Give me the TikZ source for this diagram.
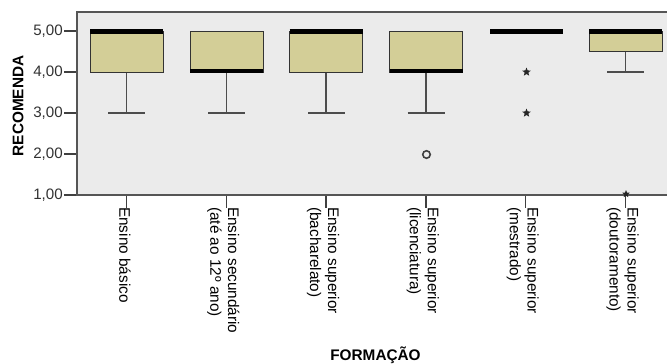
\documentclass[tikz,border=0pt]{standalone}
\usepackage{fontspec}
\setmainfont{Liberation Sans}
\usetikzlibrary{shapes.geometric}
\definecolor{panel}{RGB}{235,235,235}
\definecolor{boxfill}{RGB}{211,206,151}
\definecolor{framecol}{RGB}{85,85,85}
\definecolor{inkgray}{RGB}{50,50,50}
\begin{document}
\begin{tikzpicture}[x=1bp,y=-1bp,
  ticklab/.style={font=\fontsize{15.2}{18}\selectfont, text=inkgray, inner sep=0, anchor=east},
  catlab/.style={font=\fontsize{15.4}{18}\selectfont, inner sep=0, rotate=-90, anchor=west, align=left},
  axtitle/.style={font=\fontsize{15.4}{18}\selectfont\bfseries, inner sep=0},
  boxbody/.style={fill=boxfill, draw=black!80, line width=1pt},
  median/.style={line width=4.2pt, black},
  whisk/.style={draw=black!70, line width=1.3pt},
  frame/.style={draw=framecol, line width=2pt},
  tickline/.style={draw=black!75, line width=1.3pt},
  extreme/.style={shape=star, star points=5, star point ratio=2.3, fill=black!85, inner sep=0, minimum size=9bp},
  outl/.style={shape=circle, draw=black!75, line width=1.6pt, fill=panel, inner sep=0, minimum size=7.5bp}
]
\useasboundingbox (0,0) rectangle (667,363);
\clip (0,0) rectangle (667,363);

% plotting panel
\fill[panel] (77,12) rectangle (700,195);

% value axis ticks and labels
\foreach \v/\y in {5/31,4/72,3/113,2/154,1/195}{
  \draw[tickline] (64,\y) -- (77,\y);
  \node[ticklab] (yl\v) at (63,\y) {\v,00};
}

% category ticks
\foreach \c in {126.5,226.3,326.1,425.9,525.7,625.5}{
  \draw[tickline] (\c,195) -- (\c,208);
}

% Ensino basico
\draw[whisk] (126.5,72) -- (126.5,113);
\draw[whisk] (108,113) -- (145,113);
\draw[boxbody] (90,31) rectangle (163,72);
\draw[median] (90,31.5) -- (163,31.5);

% Ensino secundario
\draw[whisk] (226.3,72) -- (226.3,113);
\draw[whisk] (208,113) -- (245,113);
\draw[boxbody] (190,31) rectangle (263,72);
\draw[median] (190,71.3) -- (263,71.3);

% Ensino superior (bacharelato)
\draw[whisk] (326.1,72) -- (326.1,113);
\draw[whisk] (308,113) -- (345,113);
\draw[boxbody] (289.5,31) rectangle (362.5,72);
\draw[median] (289.5,31.5) -- (362.5,31.5);

% Ensino superior (licenciatura)
\draw[whisk] (425.9,72) -- (425.9,113);
\draw[whisk] (407.5,113) -- (444.5,113);
\draw[boxbody] (389.5,31) rectangle (462.5,72);
\draw[median] (389.5,71.3) -- (462.5,71.3);
\node[outl] (o4) at (426.5,154.5) {};

% Ensino superior (mestrado)
\draw[median] (490,31.5) -- (563,31.5);
\node[extreme] (s5a) at (526.5,72) {};
\node[extreme] (s5b) at (526.5,113) {};

% Ensino superior (doutoramento)
\draw[whisk] (625.5,51.5) -- (625.5,72);
\draw[whisk] (607,72) -- (644,72);
\draw[boxbody] (589,31) rectangle (662,51.5);
\draw[median] (589,31.5) -- (662,31.5);

% panel frame
\draw[frame] (700,12) -- (77,12) -- (77,195) -- (700,195);
\node[extreme, minimum size=8bp] (s6) at (626,194) {};

% category labels
\node[catlab] (c1) at (125,207) {Ensino básico};
\node[catlab] (c2) at (223.3,207) {Ensino secundário\\(até ao 12º ano)};
\node[catlab] (c3) at (323.1,207) {Ensino superior\\(bacharelato)};
\node[catlab] (c4) at (422.9,207) {Ensino superior\\(licenciatura)};
\node[catlab] (c5) at (522.7,207) {Ensino superior\\(mestrado)};
\node[catlab] (c6) at (622.5,207) {Ensino superior\\(doutoramento)};

% axis titles
\node[axtitle, rotate=90] (ytitle) at (18,106) {RECOMENDA};
\node[axtitle, anchor=base] (xtitle) at (375.5,360) {FORMAÇÃO};
\end{tikzpicture}
\end{document}
